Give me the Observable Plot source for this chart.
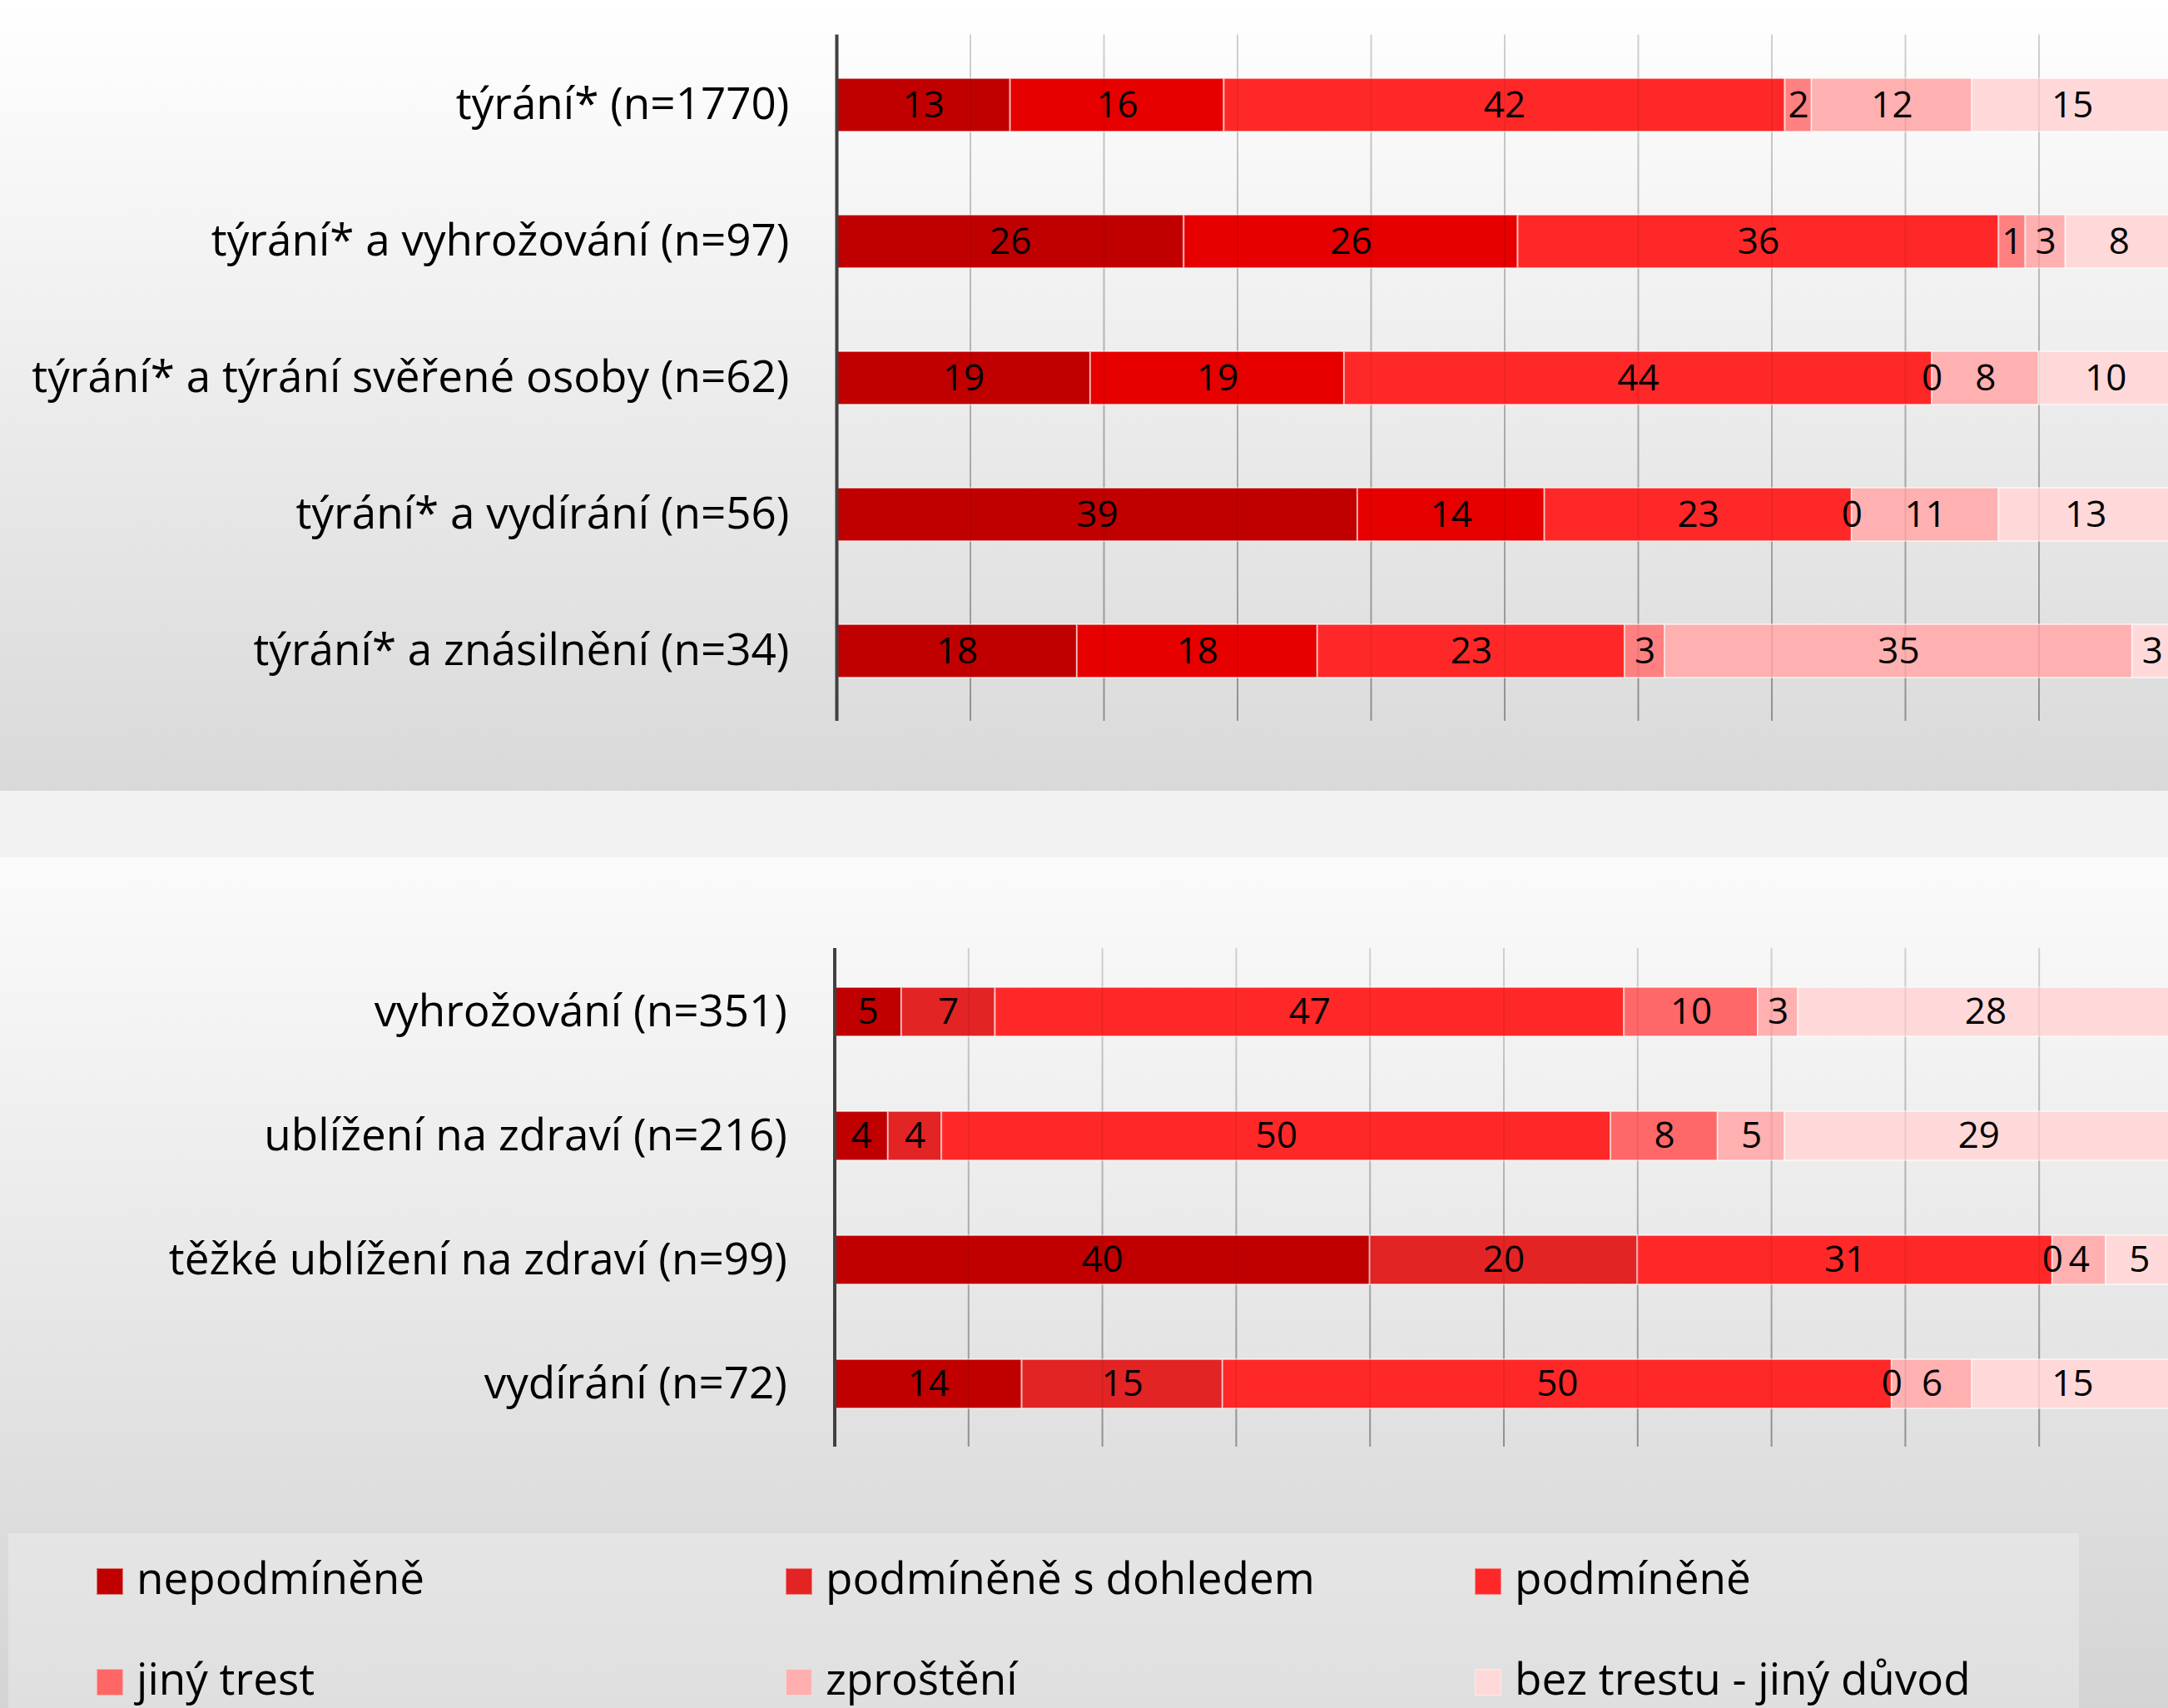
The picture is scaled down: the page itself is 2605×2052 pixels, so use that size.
<!DOCTYPE html>
<html><head><meta charset="utf-8">
<script src="https://cdn.jsdelivr.net/npm/d3@7"></script>
<script src="https://cdn.jsdelivr.net/npm/@observablehq/plot@0.6"></script>
<style>
html,body{margin:0;padding:0;}
body{width:2605px;height:2052px;overflow:hidden;position:relative;background:#f2f2f2;font-family:"Open Sans",sans-serif;}
#top{position:absolute;left:0;top:0;width:2605px;height:950px;overflow:hidden;background:linear-gradient(#ffffff,#d9d9d9);}
#bot{position:absolute;left:0;top:1030px;width:2605px;height:1022px;overflow:hidden;background:linear-gradient(#fbfbfb,#d4d4d4);}
#top svg,#bot svg{position:absolute;left:0;top:0;max-width:none !important;}
#legend{position:absolute;left:10px;top:812px;width:2488px;height:210px;background:rgba(255,255,255,0.27);}
.sw{position:absolute;width:32px;height:32px;box-shadow:inset 0 0 0 1px rgba(255,255,255,0.45);}
.lt{position:absolute;font-family:"Open Sans",sans-serif;font-size:53px;line-height:72px;color:#000;white-space:nowrap;}
</style>
</head><body>
<div id="top"></div>
<div id="bot"><div id="legend"></div></div>
<script>
const seriesNames = ["nepodmíněně","podmíněně s dohledem","podmíněně","jiný trest","zproštění","bez trestu - jiný důvod"];
const topColors = ["#C00000","#E60000","#FF2828","#FF8080","#FFB0B0","#FFD9D9"];
const botColors = ["#C00000","#E32424","#FF2828","#FF6868","#FFB0B0","#FFD9D9"];
const legendColors = ["#C00000","#E32424","#FF2828","#FF6666","#FFAFAF","#FFD9D9"];
const gridTicks = [10,20,30,40,50,60,70,80,90,100];

const topCategories = ["týrání* (n=1770)","týrání* a vyhrožování (n=97)","týrání* a týrání svěřené osoby (n=62)","týrání* a vydírání (n=56)","týrání* a znásilnění (n=34)"];
// bar widths (as drawn)
const topNepodminene = [13,26,19,39,18];
const topDohled      = [16,25,19,14,18];
const topPodminene   = [42,36,44,23,23];
const topJiny        = [2,2,0,0,3];
const topZprosteni   = [12,3,8,11,35];
const topBezTrestu   = [15,8,10,13,3];
// data labels (as printed)
const topNepodmineneLabels = [13,26,19,39,18];
const topDohledLabels      = [16,26,19,14,18];
const topPodmineneLabels   = [42,36,44,23,23];
const topJinyLabels        = [2,1,0,0,3];
const topZprosteniLabels   = [12,3,8,11,35];
const topBezTrestuLabels   = [15,8,10,13,3];

const botCategories = ["vyhrožování (n=351)","ublížení na zdraví (n=216)","těžké ublížení na zdraví (n=99)","vydírání (n=72)"];
const botNepodminene = [5,4,40,14];
const botDohled      = [7,4,20,15];
const botPodminene   = [47,50,31,50];
const botJiny        = [10,8,0,0];
const botZprosteni   = [3,5,4,6];
const botBezTrestu   = [28,29,5,15];

function makeChart(o) {
  const data = [];
  o.cats.forEach((c, i) => seriesNames.forEach((s, j) => data.push({
    category: c, series: s, value: o.values[j][i], label: (o.labels ? o.labels[j][i] : o.values[j][i])
  })));
  const svg = Plot.plot({
    width: 2620, height: o.height,
    marginLeft: o.marginLeft, marginRight: 2620 - o.xEnd,
    marginTop: o.marginTop, marginBottom: o.marginBottom,
    style: {background: "transparent", fontFamily: "'Open Sans', sans-serif", overflow: "visible", maxWidth: "none"},
    x: {domain: [0, 100], axis: null},
    y: {domain: o.cats, paddingInner: o.padIn, paddingOuter: o.padIn / 2, axis: null},
    color: {domain: seriesNames, range: o.colors},
    marks: [
      Plot.ruleX(gridTicks, {stroke: `url(#${o.gradId})`, strokeWidth: 2}),
      Plot.barX(data, Plot.stackX({x: "value", y: "category", fill: "series", z: "series", order: seriesNames, stroke: "#ffffff", strokeOpacity: 0.55, strokeWidth: 2})),
      Plot.ruleX(gridTicks, {stroke: "#000", strokeOpacity: 0.07, strokeWidth: 2}),
      Plot.ruleX([0], {stroke: "#404040", strokeWidth: 4}),
      Plot.text(data, Plot.stackX({x: "value", y: "category", z: "series", order: seriesNames, text: d => String(d.label), fontSize: 44, fill: "#000"})),
      Plot.axisY({tickSize: 0, tickPadding: 57, fontSize: 53, color: "#000", label: null})
    ]
  });
  svg.style.maxWidth = "none";
  svg.setAttribute("width", 2620);
  svg.setAttribute("height", o.height);
  svg.style.height = o.height + "px";
  svg.style.width = "2620px";
  const ns = "http://www.w3.org/2000/svg";
  const defs = document.createElementNS(ns, "defs");
  const g = document.createElementNS(ns, "linearGradient");
  g.setAttribute("id", o.gradId);
  g.setAttribute("gradientUnits", "userSpaceOnUse");
  g.setAttribute("x1", 0); g.setAttribute("x2", 0);
  g.setAttribute("y1", o.marginTop); g.setAttribute("y2", o.height - o.marginBottom);
  [["0", "#e0e0e0"], ["1", "#9c9c9c"]].forEach(([off, col]) => {
    const st = document.createElementNS(ns, "stop");
    st.setAttribute("offset", off); st.setAttribute("stop-color", col);
    g.appendChild(st);
  });
  defs.appendChild(g);
  svg.insertBefore(defs, svg.firstChild);
  return svg;
}

document.getElementById("top").appendChild(makeChart({
  cats: topCategories,
  values: [topNepodminene, topDohled, topPodminene, topJiny, topZprosteni, topBezTrestu],
  labels: [topNepodmineneLabels, topDohledLabels, topPodmineneLabels, topJinyLabels, topZprosteniLabels, topBezTrestuLabels],
  colors: topColors, height: 950, marginTop: 41.5, marginBottom: 84,
  marginLeft: 1005, xEnd: 2610, padIn: 0.61, gradId: "gridTop"
}));

const bot = document.getElementById("bot");
bot.insertBefore(makeChart({
  cats: botCategories,
  values: [botNepodminene, botDohled, botPodminene, botJiny, botZprosteni, botBezTrestu],
  colors: botColors, height: 812, marginTop: 109, marginBottom: 104,
  marginLeft: 1002.5, xEnd: 2610.5, padIn: 0.607, gradId: "gridBot"
}), bot.firstChild);

const legend = document.getElementById("legend");
const colX = [106, 934, 1762];
const rowY = [42, 163];
seriesNames.forEach((s, i) => {
  const cx = colX[i % 3], ry = rowY[Math.floor(i / 3)];
  const sw = document.createElement("div");
  sw.className = "sw";
  sw.style.left = cx + "px"; sw.style.top = ry + "px";
  sw.style.background = legendColors[i];
  legend.appendChild(sw);
  const t = document.createElement("div");
  t.className = "lt";
  t.style.left = (cx + 48) + "px"; t.style.top = (ry + 32 - 57) + "px";
  t.textContent = s;
  legend.appendChild(t);
});
</script>
</body></html>
